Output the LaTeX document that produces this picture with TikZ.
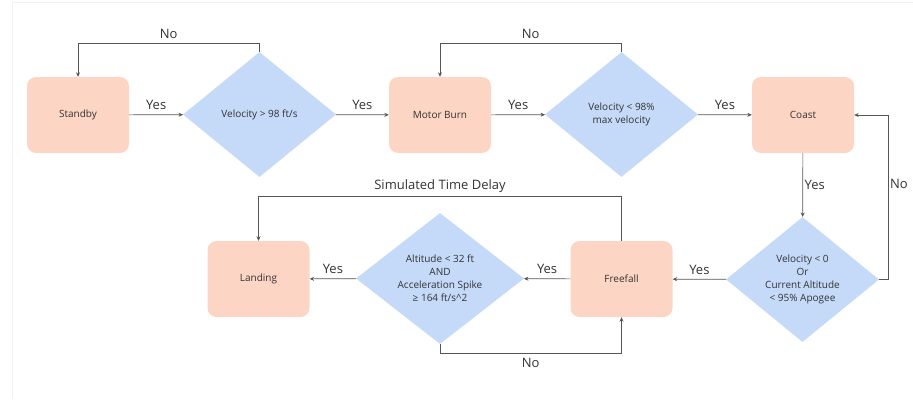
\documentclass[tikz,border=0pt]{standalone}
\usepackage{fontspec}
\setmainfont{Open Sans}
\usetikzlibrary{shapes.geometric,arrows.meta}
\definecolor{cajafill}{HTML}{FDD5C4}
\definecolor{rombofill}{HTML}{C4DAF8}
\definecolor{linea}{HTML}{555555}
\definecolor{texto}{HTML}{333333}
\begin{document}
\begin{tikzpicture}[x=1pt,y=-1pt,
    caja/.style={rectangle,rounded corners=9pt,fill=cajafill,minimum width=102pt,minimum height=76pt,
        text=texto,font=\fontsize{10}{13}\selectfont},
    rombo/.style={diamond,aspect=1.2,inner sep=0pt,fill=rombofill,minimum width=153pt,minimum height=125pt,
        text=texto,font=\fontsize{10}{13}\selectfont,align=center},
    flecha/.style={draw=linea,line width=0.7pt,-{Stealth[length=4.5pt,width=4pt]}},
    etiq/.style={text=texto,font=\fontsize{13}{15}\selectfont,inner sep=4.5pt}]
                \useasboundingbox (0,0) rectangle (913,399);
                \draw[black!5] (12,399) |- (913,2);
                %cajas
                \node[caja] (stb) at (78,115) {Standby};
                \node[caja] (mb) at (440,115) {Motor Burn};
                \node[caja] (cst) at (803,115) {Coast};
                \node[caja] (ff) at (621.5,279) {Freefall};
                \node[caja] (land) at (258.5,279) {Landing};
                %rombos
                \node[rombo] (d1) at (259.5,114.5) {Velocity > 98 ft/s};
                \node[rombo] (d2) at (621.5,114.5) {Velocity < 98\%\\max velocity};
                \node[rombo] (d3) at (802.5,279.5) {Velocity < 0\\Or\\Current Altitude\\< 95\% Apogee};
                \node[rombo,minimum width=168pt,minimum height=131pt] (d4) at (440,278.5)
                    {Altitude < 32 ft\\AND\\Acceleration Spike\\≥ 164 ft/s\textasciicircum 2};
                %fila de arriba
                \draw[flecha] (stb) -- node[etiq,above]{Yes} (d1);
                \draw[flecha] (d1) -- node[etiq,above]{Yes} (mb);
                \draw[flecha] (mb) -- node[etiq,above]{Yes} (d2);
                \draw[flecha] (d2) -- node[etiq,above]{Yes} (cst);
                \draw[flecha] (d1.north) -- ++(0,-8) -| node[etiq,pos=0.25,above]{No} (stb.north);
                \draw[flecha] (d2.north) -- ++(0,-8) -| node[etiq,pos=0.25,above]{No} (mb.north);
                %lado derecho
                \draw[flecha] (cst) -- node[etiq,right,inner sep=1.5pt]{Yes} (d3);
                \draw[flecha] (d3.east) -- ++(9,0) |- node[etiq,pos=0.29,right,inner sep=1.5pt]{No} (cst.east);
                %fila de abajo
                \draw[flecha] (d3) -- node[etiq,above]{Yes} (ff);
                \draw[flecha] (ff) -- node[etiq,above]{Yes} (d4);
                \draw[flecha] (d4) -- node[etiq,above]{Yes} (land);
                \draw[flecha] (ff.north) -- ++(0,-44) -| node[etiq,pos=0.25,above,inner sep=3.5pt]{Simulated Time Delay} (land.north);
                \draw[flecha] (d4.south) -- ++(0,9) -| node[etiq,pos=0.25,below]{No} (ff.south);
\end{tikzpicture}
\end{document}
